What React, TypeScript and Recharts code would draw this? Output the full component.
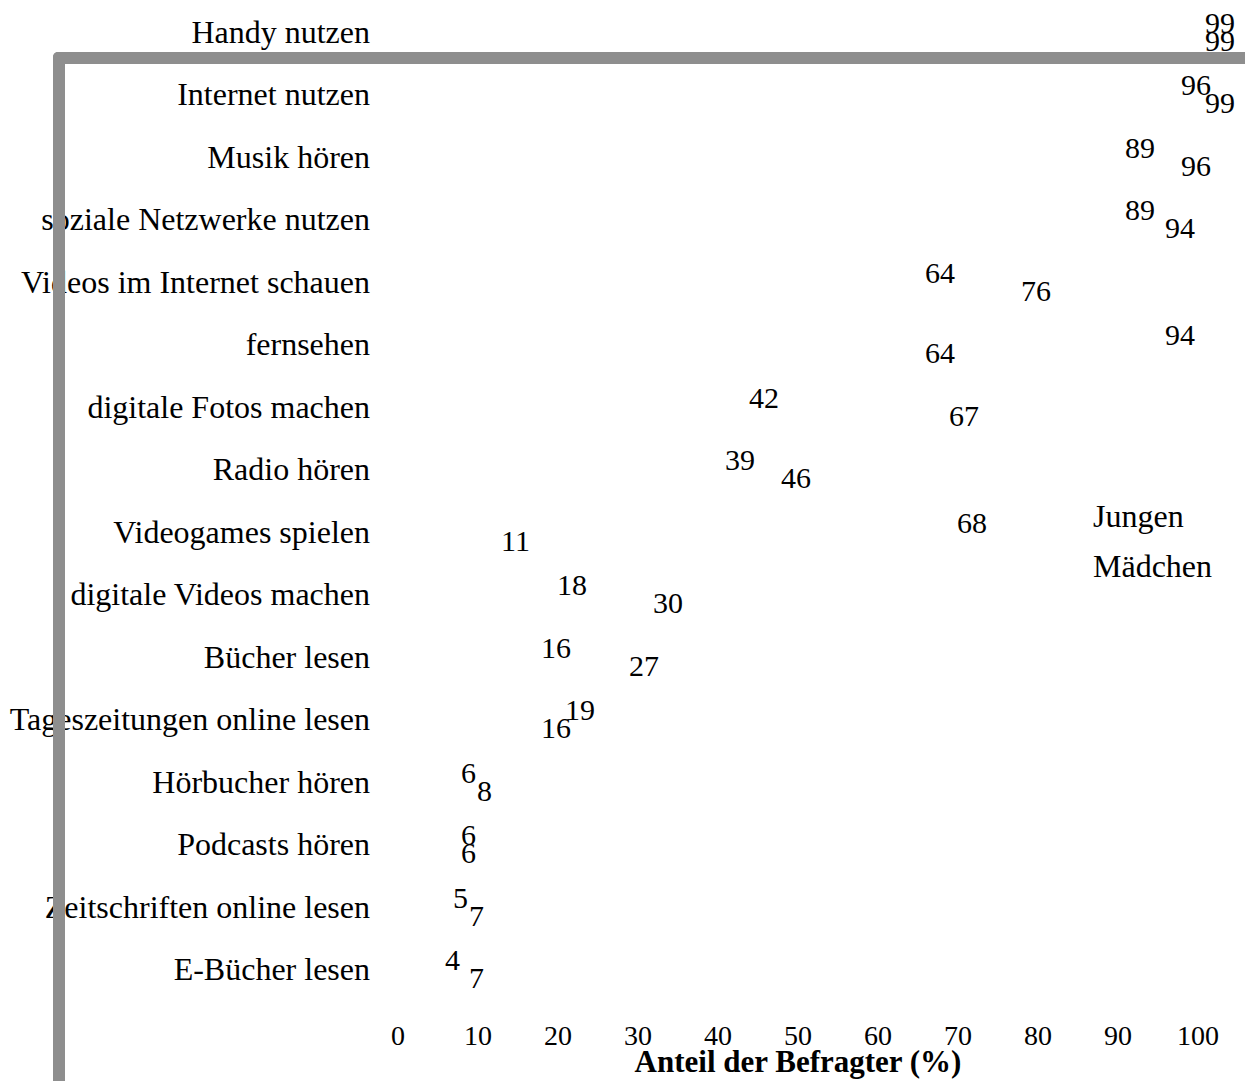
import { BarChart, Bar, XAxis, YAxis, LabelList, Legend } from 'recharts'

// Mediennutzung nach Geschlecht (Anteil der Befragten in %)
const activities = [
  'Handy nutzen',
  'Internet nutzen',
  'Musik hören',
  'soziale Netzwerke nutzen',
  'Videos im Internet schauen',
  'fernsehen',
  'digitale Fotos machen',
  'Radio hören',
  'Videogames spielen',
  'digitale Videos machen',
  'Bücher lesen',
  'Tageszeitungen online lesen',
  'Hörbucher hören',
  'Podcasts hören',
  'Zeitschriften online lesen',
  'E-Bücher lesen',
]
const jungen = [99, 96, 89, 89, 64, 94, 42, 39, 68, 18, 16, 19, 6, 6, 5, 4]
const maedchen = [99, 99, 96, 94, 76, 64, 67, 46, 11, 30, 27, 16, 8, 6, 7, 7]
const xTicks = [0, 10, 20, 30, 40, 50, 60, 70, 80, 90, 100]

const data = activities.map((name, i) => ({ name, jungen: jungen[i], maedchen: maedchen[i] }))

const FONT = '"Liberation Serif", "Times New Roman", serif'

function LegendText({ payload }: any) {
  return (
    <div style={{ fontFamily: FONT, fontSize: 32, color: '#000', lineHeight: '50px' }}>
      {(payload || []).map((entry: any) => (
        <div key={entry.value}>{entry.value}</div>
      ))}
    </div>
  )
}

export default function App() {
  return (
    <div style={{ position: 'absolute', left: 0, top: 0, width: 1245, height: 1081, background: '#fff' }}>
      <BarChart
        width={1245}
        height={1081}
        data={data}
        layout="vertical"
        margin={{ top: 0, right: 47, bottom: 0, left: 0 }}
        barSize={18}
        barGap={0}
      >
        <XAxis
          type="number"
          domain={[0, 100]}
          ticks={xTicks}
          interval={0}
          height={81}
          axisLine={false}
          tickLine={false}
          tickSize={0}
          tickMargin={25}
          tick={{ fontFamily: FONT, fontSize: 28, fill: '#000' }}
          label={{
            value: 'Anteil der Befragter (%)',
            position: 'insideBottom',
            offset: 9,
            style: { fontFamily: FONT, fontSize: 31, fontWeight: 'bold', fill: '#000' },
          }}
        />
        <YAxis
          type="category"
          dataKey="name"
          width={398}
          axisLine={false}
          tickLine={false}
          tickSize={0}
          tickMargin={28}
          interval={0}
          tick={{ fontFamily: FONT, fontSize: 32, fill: '#000' }}
        />
        <Legend
          layout="vertical"
          align="center"
          verticalAlign="middle"
          content={<LegendText />}
          wrapperStyle={{ left: 1093, top: 491, width: 150 }}
        />
        <Bar dataKey="jungen" name="Jungen" fill="transparent" isAnimationActive={false}>
          <LabelList
            dataKey="jungen"
            position="right"
            offset={15}
            style={{ fontFamily: FONT, fontSize: 30, fill: '#000' }}
          />
        </Bar>
        <Bar dataKey="maedchen" name="Mädchen" fill="transparent" isAnimationActive={false}>
          <LabelList
            dataKey="maedchen"
            position="right"
            offset={15}
            style={{ fontFamily: FONT, fontSize: 30, fill: '#000' }}
          />
        </Bar>
      </BarChart>
      {/* grauer Rahmen, der über der Grafik liegt */}
      <div
        style={{
          position: 'absolute',
          left: 53,
          top: 52,
          right: 0,
          bottom: 0,
          borderLeft: '12px solid #8e8e8e',
          borderTop: '12px solid #8e8e8e',
          borderTopLeftRadius: 5,
          pointerEvents: 'none',
        }}
      />
    </div>
  )
}
